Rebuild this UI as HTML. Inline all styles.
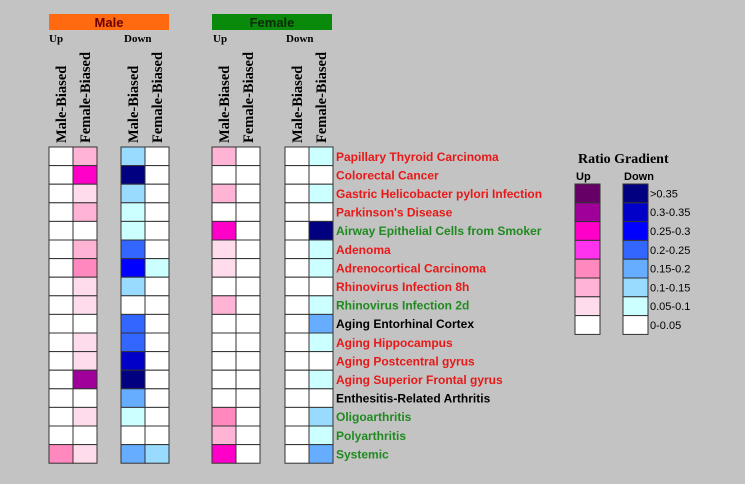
<!DOCTYPE html>
<html><head><meta charset="utf-8"><style>
body{margin:0;background:#c3c3c3;width:745px;height:484px;overflow:hidden}
svg{display:block}
</style></head><body>
<svg id="chart" width="745" height="484" xmlns="http://www.w3.org/2000/svg">
<rect x="0" y="0" width="745" height="484" fill="#c3c3c3"/>
<rect x="49" y="14" width="120" height="16" fill="#ff6a10"/>
<text x="109" y="27" text-anchor="middle" font-family="Liberation Sans, sans-serif" font-weight="bold" font-size="13" fill="#6a0000">Male</text>
<rect x="212" y="14" width="120" height="16" fill="#0a8a0a"/>
<text x="272" y="27" text-anchor="middle" font-family="Liberation Sans, sans-serif" font-weight="bold" font-size="13" fill="#0a2a0a">Female</text>
<g font-family="Liberation Serif, serif" font-weight="bold" font-size="11" fill="#000">
<text x="49" y="42">Up</text>
<text x="124" y="42">Down</text>
<text x="213" y="42">Up</text>
<text x="286" y="42">Down</text>
</g>
<g id="cols"></g>
<g id="cells"></g>
<g id="labels"></g>
<g id="legend">
<text x="578" y="163" font-family="Liberation Serif, serif" font-weight="bold" font-size="14">Ratio Gradient</text>
<text x="576" y="180" font-family="Liberation Sans, sans-serif" font-weight="bold" font-size="11">Up</text>
<text x="624" y="180" font-family="Liberation Sans, sans-serif" font-weight="bold" font-size="11">Down</text>
</g>
</svg>
<script>
const rowLabels=["Papillary Thyroid Carcinoma","Colorectal Cancer","Gastric Helicobacter pylori Infection","Parkinson's Disease","Airway Epithelial Cells from Smoker","Adenoma","Adrenocortical Carcinoma","Rhinovirus Infection 8h","Rhinovirus Infection 2d","Aging Entorhinal Cortex","Aging Hippocampus","Aging Postcentral gyrus","Aging Superior Frontal gyrus","Enthesitis-Related Arthritis","Oligoarthritis","Polyarthritis","Systemic"];
const rowColors=["r","r","r","r","g","r","r","r","g","k","r","r","r","k","g","g","g"];
const colLabels=["Male-Biased","Female-Biased","Male-Biased","Female-Biased","Male-Biased","Female-Biased","Male-Biased","Female-Biased"];
const colKinds=["up","up","down","down","up","up","down","down"];
// level codes 0..7 per column
const maleUpMale=[0,0,0,0,0,0,0,0,0,0,0,0,0,0,0,0,3];
const maleUpFemale=[2,5,1,2,0,2,3,1,1,0,1,1,6,0,1,0,1];
const maleDownMale=[2,7,2,1,1,4,5,2,0,4,4,6,7,3,1,0,3];
const maleDownFemale=[0,0,0,0,0,0,1,0,0,0,0,0,0,0,0,0,2];
const femUpMale=[2,0,2,0,5,1,1,0,2,0,0,0,0,0,3,2,5];
const femUpFemale=[0,0,0,0,0,0,0,0,0,0,0,0,0,0,0,0,0];
const femDownMale=[0,0,0,0,0,0,0,0,0,0,0,0,0,0,0,0,0];
const femDownFemale=[1,0,1,0,7,1,1,0,1,3,1,0,1,0,2,1,3];
const legendLabels=["0-0.05","0.05-0.1","0.1-0.15","0.15-0.2","0.2-0.25","0.25-0.3","0.3-0.35",">0.35"];
const upColors=["#ffffff","#ffdcec","#ffb4d6","#ff88be","#ff33ee","#ff00c8","#a0009a","#660066"];
const downColors=["#ffffff","#ccffff","#99dbff","#66acff","#3366ff","#0000ff","#0000c8","#000080"];
const columns=[maleUpMale,maleUpFemale,maleDownMale,maleDownFemale,femUpMale,femUpFemale,femDownMale,femDownFemale];
const colX=[49,73,121,145,212,236,285,309], cw=24, top0=147, rh=18.6;
const ns="http://www.w3.org/2000/svg";
const cols=document.getElementById('cols'),cells=document.getElementById('cells'),labels=document.getElementById('labels'),legend=document.getElementById('legend');
function mk(t,a,p){const e=document.createElementNS(ns,t);for(const k in a)e.setAttribute(k,a[k]);p.appendChild(e);return e;}
colLabels.forEach((l,i)=>{const cx=colX[i]+cw/2+5;
 const t=mk('text',{x:0,y:0,transform:`translate(${cx},143) rotate(-90)`,'font-family':'Liberation Serif, serif','font-weight':'bold','font-size':'14.5'},cols);
 
 
 t.textContent=l;});
columns.forEach((vals,c)=>{const pal=colKinds[c]=="up"?upColors:downColors;
 vals.forEach((v,r)=>{const e=mk('rect',{x:colX[c],y:top0+r*rh,width:cw,height:rh,fill:pal[v],stroke:'#333','stroke-width':'1'},cells);
 
 });});
const cmap={r:"#e81818",g:"#208a20",k:"#000"};
rowLabels.forEach((l,r)=>{const t=mk('text',{x:336,y:top0+r*rh+rh/2+4.5,'font-family':'Liberation Sans, sans-serif','font-weight':'bold','font-size':'12',fill:cmap[rowColors[r]]},labels);
 
 
 t.textContent=l;});
const lt=184, lh=18.8;
for(let i=0;i<8;i++){const lvl=7-i,y=lt+i*lh;
 const a=mk('rect',{x:575,y:y,width:25,height:lh,fill:upColors[lvl],stroke:'#333'},legend);
 
 
 const b=mk('rect',{x:623,y:y,width:25,height:lh,fill:downColors[lvl],stroke:'#333'},legend);
 
 
 const t=mk('text',{x:650,y:y+lh/2+4,'font-family':'Liberation Sans, sans-serif','font-size':'11'},legend);
 
 
 t.textContent=legendLabels[lvl];}
</script>
</body></html>
